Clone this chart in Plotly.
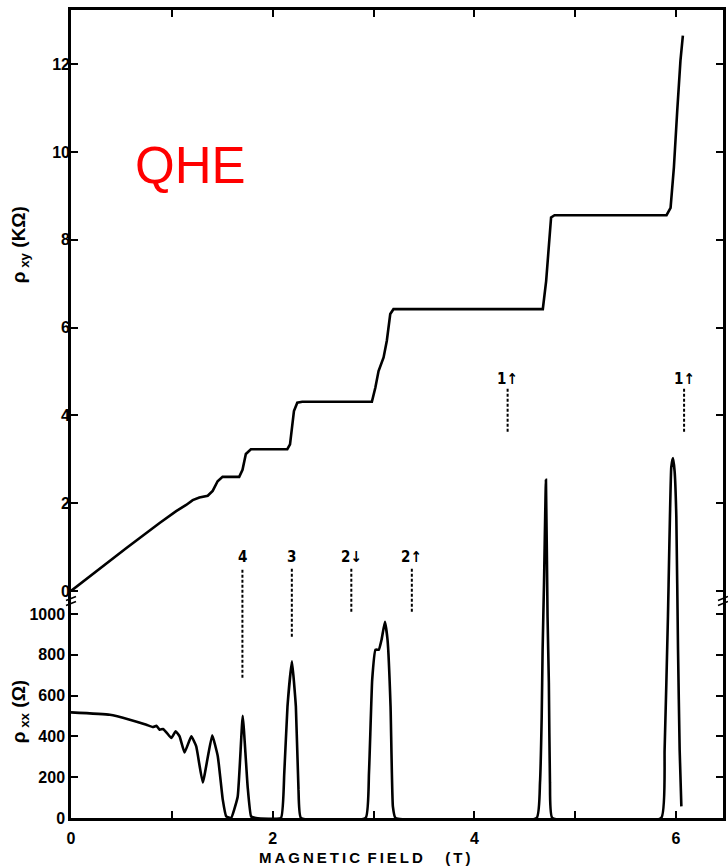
import plotly.graph_objects as go

# ---- data ----
# Hall resistance rho_xy (kOhm) vs B (T)
b_xy = [0.0, 0.22, 0.55, 0.879, 1.043, 1.142, 1.207, 1.273, 1.356, 1.405, 1.454, 1.503,
        1.668, 1.701, 1.734, 1.784, 2.145, 2.172, 2.195, 2.211, 2.244, 2.293,
        2.984, 3.018, 3.050, 3.100, 3.132, 3.166, 3.198, 4.679, 4.712, 4.735, 4.761,
        4.795, 5.906, 5.946, 5.979, 6.012, 6.044, 6.068]
r_xy = [0.0, 0.40, 0.98, 1.55, 1.82, 1.96, 2.07, 2.13, 2.17, 2.28, 2.50, 2.60,
        2.60, 2.76, 3.12, 3.23, 3.23, 3.34, 3.72, 4.10, 4.29, 4.31,
        4.31, 4.63, 5.01, 5.32, 5.70, 6.31, 6.42, 6.42, 7.06, 7.82, 8.51,
        8.56, 8.56, 8.73, 9.65, 10.94, 12.08, 12.65]

# Longitudinal resistance rho_xx (Ohm) vs B (T)
b_xx = [0.0, 0.385, 0.583, 0.748, 0.813, 0.847, 0.879, 0.912, 0.946, 0.995, 1.038,
        1.077, 1.126, 1.193, 1.242, 1.307, 1.400, 1.456, 1.505, 1.539, 1.588, 1.653,
        1.703, 1.752, 1.786, 1.835,
        2.082, 2.115, 2.147, 2.191, 2.230, 2.256, 2.280,
        2.922, 2.955, 2.987, 3.020, 3.053, 3.080, 3.113, 3.139, 3.169, 3.192, 3.218,
        4.618, 4.651, 4.668, 4.677, 4.691, 4.710, 4.726, 4.739, 4.750, 4.773,
        5.853, 5.887, 5.920, 5.953, 5.970, 5.986, 6.003, 6.020, 6.036, 6.053]
r_xx = [518, 506, 482, 457, 446, 452, 433, 436, 420, 392, 425,
        400, 321, 400, 351, 174, 405, 302, 90, 8, 0, 104,
        501, 153, 8, 0,
        0, 220, 547, 768, 547, 139, 0,
        0, 220, 678, 825, 825, 874, 962, 874, 547, 57, 0,
        0, 172, 498, 825, 1152, 1658, 988, 662, 172, 0,
        0, 335, 988, 1720, 1764, 1700, 1478, 825, 335, 57]

# Transition markers: label, B position, top/bottom of dashed line (rho_xx units)
mark_labels = ["4", "3", "2↓", "2↑", "1↑", "1↑"]
mark_b = [1.70, 2.19, 2.78, 3.38, 4.33, 6.08]
mark_top = [1227, 1227, 1227, 1227, 2107, 2107]
mark_bot = [688, 889, 1011, 1011, 1893, 1893]
mark_text_y = [1280, 1280, 1280, 1280, 2153, 2153]

x_ticks = [0, 2, 4, 6]
xy_ticks = [0, 2, 4, 6, 8, 10, 12]
xx_ticks = [0, 200, 400, 600, 800, 1000]

# ---- layout geometry ----
W, H = 728, 866
L, R, T, B = 71, 2, 10, 48
PW, PH = W - L - R, H - T - B

def px_x(px):
    return (px - L) / PW

def px_y(py):
    return (H - B - py) / PH

FONT = "Liberation Sans, Arial, sans-serif"
LFONT = "DejaVu Sans Condensed, DejaVu Sans, sans-serif"
tickfont = dict(family=FONT, size=16, color="black", weight="bold")

fig = go.Figure()
fig.add_trace(go.Scatter(x=b_xy, y=r_xy, mode="lines", yaxis="y2",
                         line=dict(color="black", width=2.6), hoverinfo="skip",
                         showlegend=False))
fig.add_trace(go.Scatter(x=b_xx, y=r_xx, mode="lines", yaxis="y",
                         line=dict(color="black", width=2.6, shape="spline", smoothing=0.35),
                         hoverinfo="skip", showlegend=False))

shapes = []
annotations = []
for lab, xb, yt, yb, ty in zip(mark_labels, mark_b, mark_top, mark_bot, mark_text_y):
    shapes.append(dict(type="line", xref="x", yref="y", x0=xb, x1=xb, y0=yb, y1=yt,
                       line=dict(color="black", width=2, dash="3px,2px")))
    annotations.append(dict(x=xb, y=ty, xref="x", yref="y", text=lab, showarrow=False,
                            font=dict(family=LFONT, size=15, color="black", weight="bold"),
                            xanchor="center", yanchor="middle"))

# axis break marks
for xp in (px_x(71), px_x(726)):
    for dy in (-2.5, 2.5):
        shapes.append(dict(type="line", xref="paper", yref="paper",
                           x0=xp - 5 / PW, x1=xp + 5 / PW,
                           y0=px_y(601 + dy + 2), y1=px_y(601 + dy - 2),
                           line=dict(color="black", width=1.6)))

annotations.append(dict(x=px_x(191), y=px_y(166), xref="paper", yref="paper", text="QHE",
                        showarrow=False, font=dict(family=FONT, size=51, color="#ff0000"),
                        xanchor="center", yanchor="middle"))
annotations.append(dict(x=px_x(20), y=px_y(245), xref="paper", yref="paper",
                        text="ρ<sub> xy</sub> (KΩ)", textangle=-90, showarrow=False,
                        font=dict(family=FONT, size=19, color="black", weight="bold"),
                        xanchor="center", yanchor="middle"))
annotations.append(dict(x=px_x(20), y=px_y(712), xref="paper", yref="paper",
                        text="ρ<sub> xx</sub> (Ω)", textangle=-90, showarrow=False,
                        font=dict(family=FONT, size=19, color="black", weight="bold"),
                        xanchor="center", yanchor="middle"))
annotations.append(dict(x=px_x(366), y=px_y(857), xref="paper", yref="paper",
                        text="M\u2009A\u2009G\u2009N\u2009E\u2009T\u2009I\u2009C\u2002F\u2009I\u2009E\u2009L\u2009D\u2002\u2003(\u2009T\u2009)",
                        showarrow=False,
                        font=dict(family=FONT, size=15, color="black", weight="bold"),
                        xanchor="center", yanchor="middle"))

axis_common = dict(showgrid=False, zeroline=False, ticks="inside", ticklen=7,
                   tickwidth=2, tickcolor="black", tickfont=tickfont)

fig.update_layout(
    width=W, height=H,
    margin=dict(l=L, r=R, t=T, b=B),
    paper_bgcolor="white", plot_bgcolor="white",
    xaxis=dict(range=[0, (726 - 71) / 101.3], tickvals=x_ticks,
               minor=dict(dtick=1, tick0=0, ticks="inside", ticklen=7, tickwidth=2,
                          tickcolor="black", showgrid=False),
               showline=True, linecolor="black", linewidth=2.5, mirror="ticks",
               ticklabelstandoff=4, **axis_common),
    yaxis=dict(range=[0, 808 / 0.204], tickvals=xx_ticks, showline=True,
               linecolor="black", linewidth=2.5, mirror="ticks", **axis_common),
    yaxis2=dict(range=[-(818 - 591) / 43.9, (591 - 10) / 43.9], tickvals=xy_ticks,
                overlaying="y", side="left", showline=False, mirror="ticks",
                **axis_common),
    shapes=shapes, annotations=annotations,
)

fig.write_html("out.html")
